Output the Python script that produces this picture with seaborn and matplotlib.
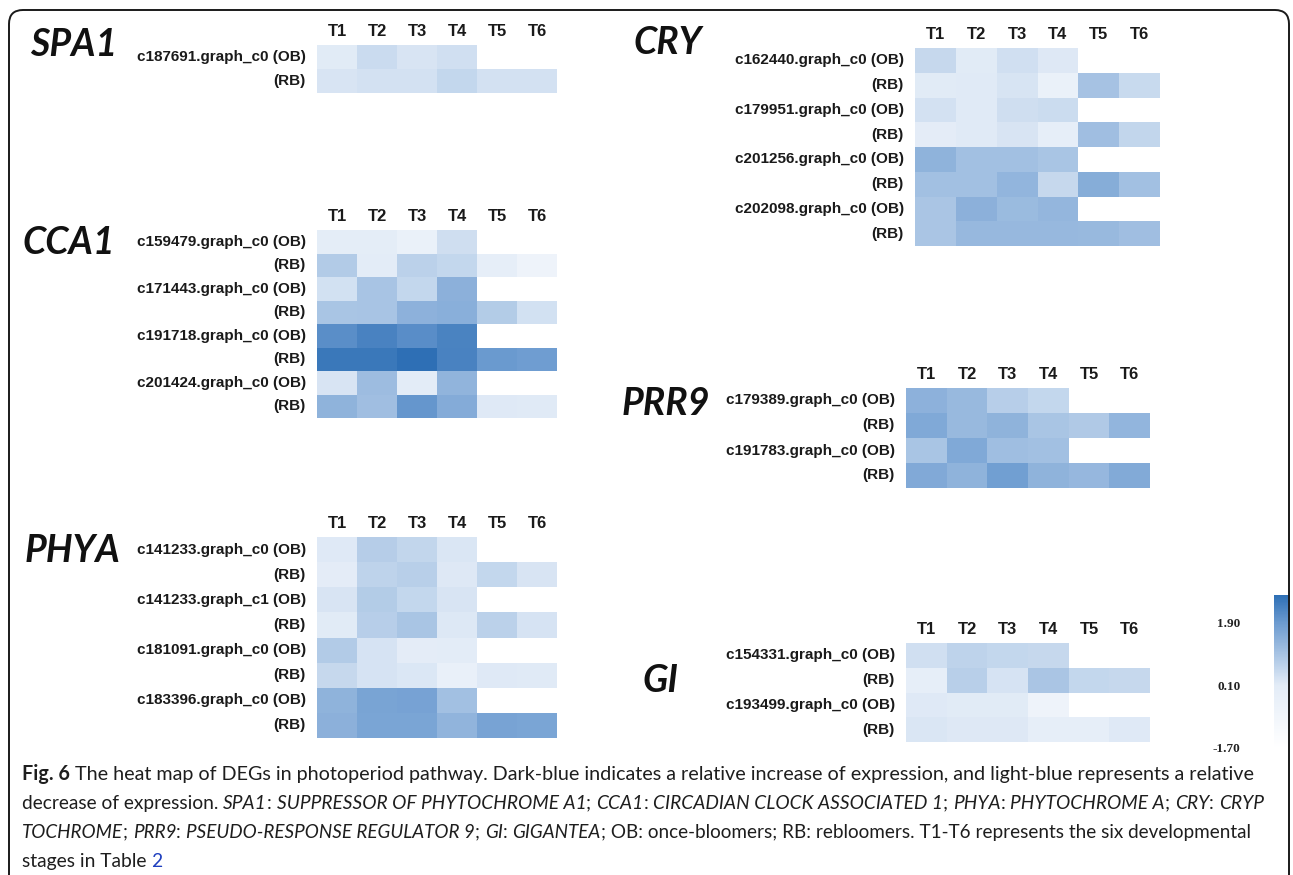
import numpy as np
import pandas as pd
import matplotlib
matplotlib.use("Agg")
import matplotlib.pyplot as plt
import seaborn as sns
from matplotlib.colors import LinearSegmentedColormap
from matplotlib.patches import FancyBboxPatch
from matplotlib.transforms import IdentityTransform
from matplotlib.font_manager import FontProperties

nan = np.nan
stages = ["T1", "T2", "T3", "T4", "T5", "T6"]

# ---------------- data (relative expression) ----------------
spa1_labels = ["c187691.graph_c0 (OB)", "(RB)"]
spa1_vals = [[0.13, 0.48, 0.27, 0.39, nan, nan],
             [0.27, 0.34, 0.34, 0.57, 0.34, 0.33]]

cca1_labels = ["c159479.graph_c0 (OB)", "(RB)", "c171443.graph_c0 (OB)", "(RB)",
               "c191718.graph_c0 (OB)", "(RB)", "c201424.graph_c0 (OB)", "(RB)"]
cca1_vals = [[0.03, 0.05, -0.35, 0.40, nan, nan],
             [0.84, 0.10, 0.69, 0.58, -0.10, -0.60],
             [0.36, 0.99, 0.58, 1.42, nan, nan],
             [0.98, 0.99, 1.40, 1.45, 0.81, 0.36],
             [2.12, 2.34, 2.15, 2.33, nan, nan],
             [2.54, 2.54, 2.70, 2.34, 1.91, 1.85],
             [0.27, 1.17, 0.08, 1.33, nan, nan],
             [1.36, 1.11, 1.98, 1.54, 0.16, 0.15]]

phya_labels = ["c141233.graph_c0 (OB)", "(RB)", "c141233.graph_c1 (OB)", "(RB)",
               "c181091.graph_c0 (OB)", "(RB)", "c183396.graph_c0 (OB)", "(RB)"]
phya_vals = [[0.16, 0.78, 0.60, 0.24, nan, nan],
             [0.06, 0.67, 0.75, 0.19, 0.57, 0.27],
             [0.27, 0.81, 0.57, 0.27, nan, nan],
             [0.13, 0.77, 0.98, 0.20, 0.69, 0.30],
             [0.83, 0.31, 0.06, 0.10, nan, nan],
             [0.54, 0.30, 0.22, -0.30, 0.16, 0.15],
             [1.37, 1.69, 1.73, 1.08, nan, nan],
             [1.42, 1.68, 1.68, 1.33, 1.72, 1.68]]

cry_labels = ["c162440.graph_c0 (OB)", "(RB)", "c179951.graph_c0 (OB)", "(RB)",
              "c201256.graph_c0 (OB)", "(RB)", "c202098.graph_c0 (OB)", "(RB)"]
cry_vals = [[0.54, 0.13, 0.39, 0.19, nan, nan],
            [0.13, 0.15, 0.28, -0.35, 1.02, 0.51],
            [0.34, 0.15, 0.40, 0.46, nan, nan],
            [0.06, 0.15, 0.27, -0.10, 1.11, 0.60],
            [1.37, 1.08, 1.08, 0.98, nan, nan],
            [1.08, 1.08, 1.31, 0.55, 1.51, 1.07],
            [0.95, 1.42, 1.19, 1.30, nan, nan],
            [0.95, 1.25, 1.25, 1.25, 1.23, 1.11]]

prr9_labels = ["c179389.graph_c0 (OB)", "(RB)", "c191783.graph_c0 (OB)", "(RB)"]
prr9_vals = [[1.40, 1.23, 0.77, 0.58, nan, nan],
             [1.60, 1.23, 1.37, 0.98, 0.87, 1.31],
             [0.98, 1.60, 1.12, 1.07, nan, nan],
             [1.57, 1.37, 1.81, 1.37, 1.26, 1.56]]

gi_labels = ["c154331.graph_c0 (OB)", "(RB)", "c193499.graph_c0 (OB)", "(RB)"]
gi_vals = [[0.39, 0.66, 0.58, 0.54, nan, nan],
           [-0.10, 0.75, 0.30, 0.96, 0.58, 0.55],
           [0.16, 0.13, 0.13, -0.60, nan, nan],
           [0.24, 0.19, 0.19, -0.10, -0.10, 0.16]]

cbar_ticks = [1.90, 0.10, -1.70]
cbar_ticklabels = ["1.90", "0.10", "-1.70"]
vmin, vmax = -1.7, 2.7

# ---------------- style ----------------
W, H = 1293, 875
sns.set_theme(style="white")
sans = ["Liberation Sans", "DejaVu Sans"]
plt.rcParams["font.family"] = sans

stops = [(0.0, "#ffffff"), ((0.1 - vmin) / (vmax - vmin), "#e3ecf7"),
         ((1.9 - vmin) / (vmax - vmin), "#6c9bd0"), (1.0, "#2e6fb5")]
cmap = LinearSegmentedColormap.from_list("wb", stops)

fig = plt.figure(figsize=(W / 100, H / 100), dpi=100)
fig.patch.set_facecolor("white")


def ax_px(x0, y0, x1, y1):
    return fig.add_axes([x0 / W, 1 - y1 / H, (x1 - x0) / W, (y1 - y0) / H])


# rounded frame
frame = FancyBboxPatch((9, -40), 1280, H - 10 + 40,
                       boxstyle="round,pad=0,rounding_size=14",
                       transform=IdentityTransform(), fill=False,
                       lw=1.4, ec="#1a1a1a")
fig.add_artist(frame)

panels = [
    ("SPA1", spa1_labels, spa1_vals, (317, 45, 557, 93), (74, 45)),
    ("CCA1", cca1_labels, cca1_vals, (317, 230, 557, 418), (69, 243)),
    ("PHYA", phya_labels, phya_vals, (317, 537, 557, 738), (72, 550)),
    ("CRY", cry_labels, cry_vals, (915, 48, 1160, 246), (668, 42)),
    ("PRR9", prr9_labels, prr9_vals, (906, 388, 1150, 488), (666, 403)),
    ("GI", gi_labels, gi_vals, (906, 643, 1150, 742), (660, 680)),
]

cax = ax_px(1274, 595, 1290, 748)

for name, labels, vals, box, tpos in panels:
    ax = ax_px(*box)
    data = pd.DataFrame(np.array(vals, dtype=float), columns=stages)
    is_last = name == "GI"
    sns.heatmap(data, ax=ax, cmap=cmap, vmin=vmin, vmax=vmax,
                xticklabels=stages, yticklabels=labels,
                cbar=is_last, cbar_ax=cax if is_last else None,
                cbar_kws={"ticks": cbar_ticks} if is_last else None)
    ax.xaxis.tick_top()
    ax.tick_params(axis="x", length=0, pad=4, labelsize=12, labelcolor="#1a1a1a")
    ax.tick_params(axis="y", length=0, pad=8, labelsize=11, labelcolor="#1a1a1a")
    for t in ax.get_xticklabels():
        t.set_fontweight("bold")
        t.set_rotation(0)
    for t in ax.get_yticklabels():
        t.set_fontweight("bold")
        t.set_rotation(0)
    ax.set_xlabel("")
    ax.set_ylabel("")
    fig.text(tpos[0] / W, 1 - tpos[1] / H, name, ha="center", va="center",
             fontsize=27, fontweight="bold", fontstyle="italic",
             family=["Lato", "Open Sans", "DejaVu Sans"], color="#111111")

# colorbar styling
cax.yaxis.set_ticks_position("left")
cax.set_yticks(cbar_ticks)
cax.set_yticklabels(cbar_ticklabels)
cax.tick_params(length=0, pad=24, labelsize=9.5, labelcolor="#222222")
for t in cax.get_yticklabels():
    t.set_fontweight("bold")
    t.set_family(["Liberation Serif", "DejaVu Serif"])
for sp in cax.spines.values():
    sp.set_visible(False)

# ---------------- caption with mixed styles ----------------
fig.canvas.draw()
renderer = fig.canvas.get_renderer()
cap_family = ["Lato", "Liberation Sans", "DejaVu Sans"]


def text_width(s, size, weight, style):
    fp = FontProperties(family=cap_family, size=size, weight=weight, style=style)
    w1, _, _ = renderer.get_text_width_height_descent("|" + s + "|", fp, ismath=False)
    w2, _, _ = renderer.get_text_width_height_descent("||", fp, ismath=False)
    return w1 - w2


N, B, I = ("normal", "normal"), ("bold", "normal"), ("normal", "italic")
ink = "#1e1e1e"
blue_link = "#1f3fbf"
lines = [
    [("Fig. 6", B, ink), (" The heat map of DEGs in photoperiod pathway. Dark-blue indicates a relative increase of expression, and light-blue represents a relative", N, ink)],
    [("decrease of expression. ", N, ink), ("SPA1", I, ink), (": ", N, ink),
     ("SUPPRESSOR OF PHYTOCHROME A1", I, ink), ("; ", N, ink), ("CCA1", I, ink), (": ", N, ink),
     ("CIRCADIAN CLOCK ASSOCIATED 1", I, ink), ("; ", N, ink), ("PHYA", I, ink), (": ", N, ink),
     ("PHYTOCHROME A", I, ink), ("; ", N, ink), ("CRY", I, ink), (": ", N, ink), ("CRYP", I, ink)],
    [("TOCHROME", I, ink), ("; ", N, ink), ("PRR9", I, ink), (": ", N, ink),
     ("PSEUDO-RESPONSE REGULATOR 9", I, ink), ("; ", N, ink), ("GI", I, ink), (": ", N, ink),
     ("GIGANTEA", I, ink), ("; OB: once-bloomers; RB: rebloomers. T1-T6 represents the six developmental", N, ink)],
    [("stages in Table ", N, ink), ("2", N, blue_link)],
]
targets = [1263, 1263, 1250, None]
x_start = 22.0
line_y = [773, 802, 831, 860]   # visual centre of each caption line (px)

base = 14.0
sizes = []
for runs, tgt in zip(lines, targets):
    if tgt is None:
        sizes.append(None)
        continue
    w = sum(text_width(s, base, st[0], st[1]) for s, st, c in runs)
    sizes.append(base * (tgt - x_start) / w)
sizes[3] = float(np.mean(sizes[:3]))

for runs, yp, size in zip(lines, line_y, sizes):
    x = x_start
    baseline_px = yp + size * 100 / 72 * 0.36
    for s, st, c in runs:
        fig.text(x / W, 1 - baseline_px / H, s, ha="left", va="baseline", fontsize=size,
                 fontweight=st[0], fontstyle=st[1], color=c, family=cap_family)
        x += text_width(s, size, st[0], st[1])

fig.savefig("out.png", dpi=100, facecolor="white")
